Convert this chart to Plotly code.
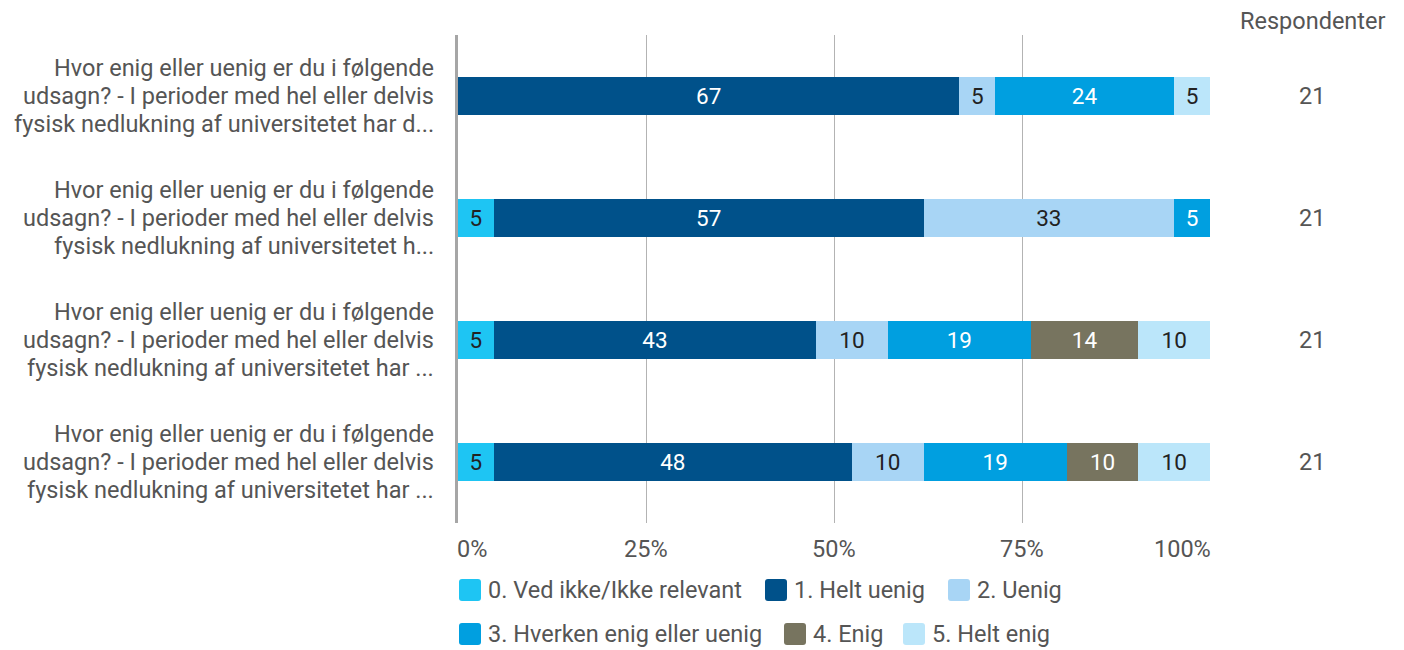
import plotly.graph_objects as go

# ---- data ----
questions = [
    "Hvor enig eller uenig er du i følgende\nudsagn? - I perioder med hel eller delvis\nfysisk nedlukning af universitetet har d...",
    "Hvor enig eller uenig er du i følgende\nudsagn? - I perioder med hel eller delvis\nfysisk nedlukning af universitetet h...",
    "Hvor enig eller uenig er du i følgende\nudsagn? - I perioder med hel eller delvis\nfysisk nedlukning af universitetet har ...",
    "Hvor enig eller uenig er du i følgende\nudsagn? - I perioder med hel eller delvis\nfysisk nedlukning af universitetet har ...",
]
respondents = [21, 21, 21, 21]
categories = [
    "0. Ved ikke/Ikke relevant",
    "1. Helt uenig",
    "2. Uenig",
    "3. Hverken enig eller uenig",
    "4. Enig",
    "5. Helt enig",
]
# counts per category for each question (out of 21 respondents)
counts_ved_ikke = [0, 1, 1, 1]
counts_helt_uenig = [14, 12, 9, 10]
counts_uenig = [1, 7, 2, 2]
counts_hverken = [5, 1, 4, 4]
counts_enig = [0, 0, 3, 2]
counts_helt_enig = [1, 0, 2, 2]
x_ticks = [0, 25, 50, 75, 100]
x_ticklabels = ["0%", "25%", "50%", "75%", "100%"]

# ---- style ----
colors = ["#1EC5F3", "#00518A", "#A8D5F5", "#009FE0", "#77745F", "#BBE6FA"]
text_colors = ["#222222", "#FFFFFF", "#222222", "#FFFFFF", "#FFFFFF", "#222222"]
FONT = "Roboto"
GREY = "#555555"
W, H = 1404, 650
L, R, T, B = 458, 1210, 35, 523
FS = 23.5

series = [counts_ved_ikke, counts_helt_uenig, counts_uenig,
          counts_hverken, counts_enig, counts_helt_enig]
ypos = list(range(len(questions)))

fig = go.Figure()
for cat, cnts, col, tcol in zip(categories, series, colors, text_colors):
    pct = [c / n * 100 for c, n in zip(cnts, respondents)]
    txt = [str(round(p)) if c > 0 else "" for p, c in zip(pct, cnts)]
    fig.add_trace(go.Bar(
        y=ypos, x=pct, orientation="h", name=cat,
        marker=dict(color=col, line=dict(width=0)),
        text=txt, textposition="inside", insidetextanchor="middle",
        textangle=0, constraintext="none",
        textfont=dict(color=tcol, size=22.5, family=FONT),
        width=0.31, showlegend=False, hoverinfo="name+x",
    ))

fig.update_layout(
    barmode="stack",
    width=W, height=H,
    margin=dict(l=L, r=W - R, t=T, b=H - B, pad=0),
    paper_bgcolor="white", plot_bgcolor="white",
    font=dict(family=FONT, size=FS, color=GREY),
    uniformtext=dict(minsize=18, mode="show"),
    xaxis=dict(range=[0, 100], tickvals=x_ticks,
               ticktext=["" for _ in x_ticks],
               showgrid=True, gridcolor="#B3B3B3", gridwidth=1,
               zeroline=False, showline=False, ticks="",
               fixedrange=True),
    yaxis=dict(range=[len(questions) - 0.5, -0.5], tickvals=ypos,
               ticktext=["" for _ in ypos],
               showgrid=False, zeroline=False, showline=True,
               linecolor="#A6A6A6", linewidth=3,
               ticks="", fixedrange=True),
)

def px_x(px):
    return (px - L) / (R - L)

def px_y(py):
    return (B - py) / (B - T)

# X tick labels (end labels kept inside the plot width, like the reference)
for i, (tv, tl) in enumerate(zip(x_ticks, x_ticklabels)):
    anchor = "left" if i == 0 else ("right" if i == len(x_ticks) - 1 else "center")
    shift = -3 if i == 0 else (3 if i == len(x_ticks) - 1 else 0)
    fig.add_annotation(x=tv, y=px_y(549), xref="x", yref="paper",
                       text=tl, showarrow=False, xanchor=anchor, yanchor="middle",
                       xshift=shift,
                       font=dict(size=FS, color=GREY, family=FONT))

# Category labels (three right-aligned lines per bar)
LINE_GAP = 28
for yi, q in zip(ypos, questions):
    lines = q.split("\n")
    n = len(lines)
    for k, line in enumerate(lines):
        fig.add_annotation(x=px_x(436), y=yi, xref="paper", yref="y",
                           text=line, showarrow=False,
                           xanchor="right", yanchor="middle",
                           yshift=-(k - (n - 1) / 2) * LINE_GAP,
                           font=dict(size=FS, color=GREY, family=FONT))

# Respondents column
fig.add_annotation(x=px_x(1312), y=px_y(21), xref="paper", yref="paper",
                   text="Respondenter", showarrow=False,
                   font=dict(size=FS, color=GREY, family=FONT),
                   xanchor="center", yanchor="middle")
for yi, n in zip(ypos, respondents):
    fig.add_annotation(x=px_x(1312), y=yi, xref="paper", yref="y",
                       text=str(n), showarrow=False,
                       font=dict(size=FS, color=GREY, family=FONT),
                       xanchor="center", yanchor="middle")

# Legend (drawn manually to mirror the two-row layout)
legend_pos = [(459, 590), (765, 590), (948, 590),
              (459, 634), (784, 634), (903, 634)]
S = 22
rr = 3
for (lx, ly), cat, col in zip(legend_pos, categories, colors):
    x0, x1 = lx, lx + S
    y0, y1 = ly - S / 2, ly + S / 2
    pts = [
        ("M", x0 + rr, y0), ("L", x1 - rr, y0), ("Q", x1, y0, x1, y0 + rr),
        ("L", x1, y1 - rr), ("Q", x1, y1, x1 - rr, y1), ("L", x0 + rr, y1),
        ("Q", x0, y1, x0, y1 - rr), ("L", x0, y0 + rr), ("Q", x0, y0, x0 + rr, y0),
    ]
    path = ""
    for p in pts:
        cmd = p[0]
        coords = p[1:]
        conv = []
        for i in range(0, len(coords), 2):
            conv.append(f"{px_x(coords[i]):.5f},{px_y(coords[i+1]):.5f}")
        path += cmd + " ".join(conv) + " "
    path += "Z"
    fig.add_shape(type="path", path=path, xref="paper", yref="paper",
                  fillcolor=col, line=dict(width=0), layer="above")
    fig.add_annotation(x=px_x(lx + S + 5), y=px_y(ly), xref="paper", yref="paper",
                       text=cat, showarrow=False, xanchor="left", yanchor="middle",
                       font=dict(size=FS, color=GREY, family=FONT))

fig.write_html("out.html", config={"displayModeBar": False},
               post_script="document.body.style.margin='0px';")
